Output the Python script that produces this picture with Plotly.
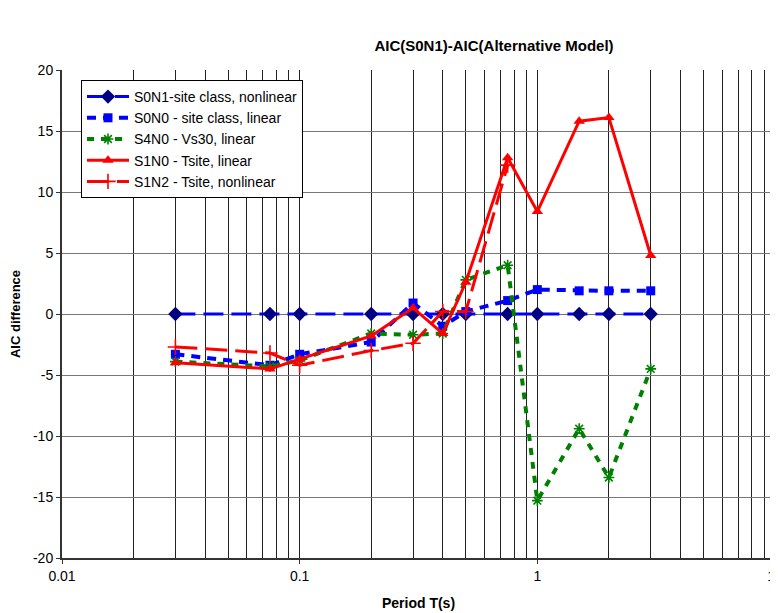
import plotly.graph_objects as go

# ---- data ----
periods = [0.03, 0.075, 0.1, 0.2, 0.3, 0.4, 0.5, 0.75, 1, 1.5, 2, 3]
s0n1 = [0, 0, 0, 0, 0, 0, 0, 0, 0, 0, 0, 0]
s0n0 = [-3.3, -4.2, -3.3, -2.3, 0.9, -1.0, 0.2, 1.1, 2.0, 1.9, 1.9, 1.9]
s4n0 = [-3.9, -4.3, -3.8, -1.6, -1.7, -1.6, 2.8, 4.0, -15.3, -9.4, -13.4, -4.5]
s1n0 = [-4.0, -4.5, -3.7, -1.8, 0.5, -1.6, 2.6, 12.8, 8.4, 15.8, 16.1, 4.8]
s1n2_periods = [0.03, 0.075, 0.1, 0.2, 0.3, 0.4, 0.5, 0.75]
s1n2 = [-2.7, -3.2, -4.2, -3.0, -2.4, 0.2, 0.2, 12.2]

names = ["S0N1-site class, nonlinear", "S0N0 - site class, linear",
         "S4N0 - Vs30, linear", "S1N0 - Tsite, linear", "S1N2 - Tsite, nonlinear"]

x_tickvals = [0.01, 0.1, 1, 10]
x_ticktext = ["0.01", "0.1", "1", "10"]
y_tickvals = [-20, -15, -10, -5, 0, 5, 10, 15, 20]
y_ticktext = ["-20", "-15", "-10", "-5", "0", "5", "10", "15", "20"]

FONT = "Liberation Sans, Arial, sans-serif"

# figure sits 8px inside the page (default body margin), so sizes are reduced by 8
W, H = 770, 605
L, R, T, B = 54, 3, 62, 55
PW, PH = W - L - R, H - T - B

fig = go.Figure()
fig.add_trace(go.Scatter(
    x=periods, y=s0n1, name=names[0], mode="lines+markers",
    line=dict(color="#0000FF", width=3, dash="20px,8px"),
    marker=dict(symbol="diamond", size=11, color="#000080")))
fig.add_trace(go.Scatter(
    x=periods, y=s0n0, name=names[1], mode="lines+markers",
    line=dict(color="#0000FF", width=4, dash="9px,7px"),
    marker=dict(symbol="square", size=9, color="#0000FF")))
fig.add_trace(go.Scatter(
    x=periods, y=s4n0, name=names[2], mode="lines+markers",
    line=dict(color="#008000", width=4, dash="7px,7px"),
    marker=dict(symbol="asterisk-open", size=9, color="#008000",
                line=dict(color="#008000", width=1.6))))
fig.add_trace(go.Scatter(
    x=periods, y=s1n0, name=names[3], mode="lines+markers",
    line=dict(color="#FF0000", width=3),
    marker=dict(symbol="triangle-up", size=10, color="#FF0000")))
fig.add_trace(go.Scatter(
    x=s1n2_periods, y=s1n2, name=names[4], mode="lines+markers",
    line=dict(color="#FF0000", width=3, dash="22px,8px"),
    marker=dict(symbol="cross-thin-open", size=11, color="#FF0000",
                line=dict(color="#FF0000", width=1.6))))

fig.update_layout(
    width=W, height=H,
    margin=dict(l=L, r=R, t=T, b=B, pad=0, autoexpand=False),
    paper_bgcolor="white", plot_bgcolor="white",
    font=dict(family=FONT, size=14, color="black"),
    title=dict(text="<b>AIC(S0N1)-AIC(Alternative Model)</b>", x=486 / W, xanchor="center",
               y=1 - 38 / H, yanchor="middle", font=dict(size=15, family=FONT)),
    showlegend=True,
    legend=dict(x=(73 - L) / PW, y=1 - (72 - T) / PH, xanchor="left", yanchor="top",
                bgcolor="white", bordercolor="black", borderwidth=1,
                font=dict(size=14, family=FONT), itemwidth=42,
                traceorder="normal"),
    xaxis=dict(type="log", range=[-2, 1], tickvals=x_tickvals, ticktext=x_ticktext,
               ticklabeloverflow="allow",
               showgrid=True, gridcolor="#222222", gridwidth=1,
               minor=dict(dtick="D1", showgrid=True, gridcolor="#222222", gridwidth=1, ticks=""),
               showline=True, linecolor="#333333", linewidth=2,
               ticks="outside", ticklen=4, tickcolor="#333333",
               title=dict(text="<b>Period T(s)</b>", font=dict(size=14, family=FONT), standoff=15),
               zeroline=False),
    yaxis=dict(range=[-20, 20], tickvals=y_tickvals, ticktext=y_ticktext,
               showgrid=True, gridcolor="#777777", gridwidth=1,
               showline=True, linecolor="#333333", linewidth=2,
               ticks="outside", ticklen=4, tickcolor="#333333",
               title=dict(text="<b>AIC difference</b>", font=dict(size=13, family=FONT), standoff=12),
               zeroline=False),
)

fig.write_html("out.html")
